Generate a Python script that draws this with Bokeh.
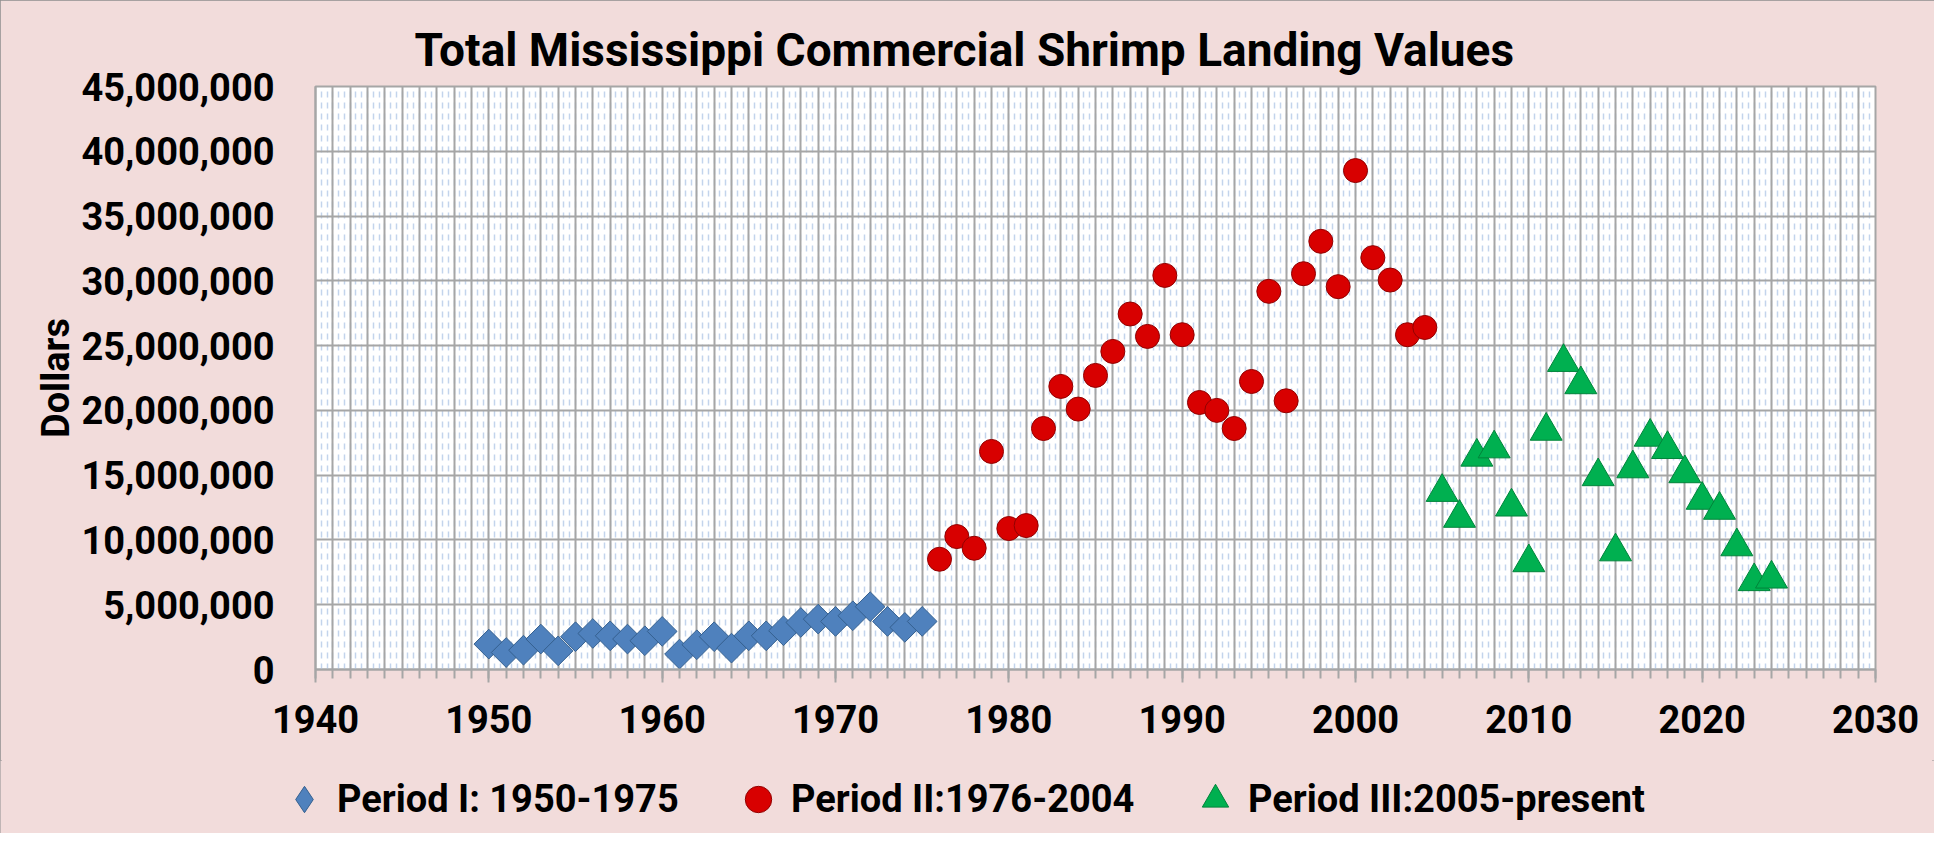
from bokeh.plotting import figure
from bokeh.layouts import column
from bokeh.models import (SingleIntervalTicker, NumeralTickFormatter,
                          Legend, LegendItem, Range1d)
from bokeh.embed import file_html
from bokeh.resources import INLINE

# ---------------- data ----------------
years_p1 = list(range(1950, 1976))
values_p1 = [1960000, 1310000, 1490000, 2350000, 1440000, 2530000, 2780000,
             2600000, 2350000, 2220000, 2940000, 1190000, 1910000, 2530000,
             1650000, 2600000, 2600000, 2990000, 3630000, 3890000, 3710000,
             4150000, 4850000, 3710000, 3250000, 3710000]

years_p2 = list(range(1976, 2005))
values_p2 = [8510000, 10260000, 9360000, 16830000, 10880000, 11110000,
             18600000, 21850000, 20100000, 22700000, 24550000, 27440000,
             25710000, 30420000, 25840000, 20610000, 20000000, 18600000,
             22230000, 29190000, 20740000, 30550000, 33050000, 29550000,
             38510000, 31790000, 30060000, 25840000, 26400000]

years_p3 = list(range(2005, 2025))
values_p3 = [13690000, 11690000, 16410000, 17050000, 12560000, 8260000,
             18410000, 23720000, 22000000, 14900000, 9100000, 15510000,
             17950000, 17000000, 15130000, 13080000, 12310000, 9490000,
             6800000, 7000000]

title_text = "Total Mississippi Commercial Shrimp Landing Values"
y_label = "Dollars"
legend_labels = ["Period I: 1950-1975", "Period II:1976-2004", "Period III:2005-present"]

FONT = "Roboto"
PINK = "#F2DCDB"
GRID = "#A6A6A6"

BLUE_FILL, BLUE_LINE = "#4F81BD", "#35608F"
RED_FILL, RED_LINE = "#D80000", "#920000"
GREEN_FILL, GREEN_LINE = "#00B050", "#00843A"

p = figure(width=1934, height=760, output_backend="svg", toolbar_location=None,
           x_range=Range1d(1940, 2030), y_range=Range1d(0, 45000000),
           min_border_left=315, min_border_right=59, min_border_top=86,
           min_border_bottom=91, background_fill_color="white",
           border_fill_color=PINK, outline_line_color=GRID, outline_line_width=2)

# title
p.title.text = title_text
p.title.align = "left"
p.title.offset = 99
p.title.standoff = 20
p.title.text_font = FONT
p.title.text_font_style = "bold"
p.title.text_font_size = "46px"
p.title.text_color = "black"

# grids
p.xgrid.ticker = SingleIntervalTicker(interval=1, num_minor_ticks=3)
p.xgrid.grid_line_color = GRID
p.xgrid.grid_line_width = 2
p.xgrid.minor_grid_line_color = "#C3D4EC"
p.xgrid.minor_grid_line_width = 1.5
p.xgrid.minor_grid_line_dash = "6 5"
p.ygrid.ticker = SingleIntervalTicker(interval=5000000, num_minor_ticks=0)
p.ygrid.grid_line_color = GRID
p.ygrid.grid_line_width = 2

# x axis
xa = p.xaxis[0]
xa.ticker = SingleIntervalTicker(interval=10, num_minor_ticks=10)
xa.axis_line_color = GRID
xa.axis_line_width = 2
xa.major_tick_line_color = GRID
xa.major_tick_line_width = 2
xa.minor_tick_line_color = GRID
xa.minor_tick_line_width = 2
xa.major_tick_out = 13
xa.major_tick_in = 0
xa.minor_tick_out = 9
xa.minor_tick_in = 0
xa.major_label_standoff = 22
xa.major_label_text_font = FONT
xa.major_label_text_font_style = "bold"
xa.major_label_text_font_size = "38px"
xa.major_label_text_color = "black"

# y axis
ya = p.yaxis[0]
ya.ticker = SingleIntervalTicker(interval=5000000, num_minor_ticks=0)
ya.formatter = NumeralTickFormatter(format="0,0")
ya.axis_line_color = GRID
ya.axis_line_width = 2
ya.major_tick_out = 0
ya.major_tick_in = 0
ya.minor_tick_out = 0
ya.minor_tick_in = 0
ya.major_label_standoff = 41
ya.major_label_text_font = FONT
ya.major_label_text_font_style = "bold"
ya.major_label_text_font_size = "38px"
ya.major_label_text_color = "black"
ya.axis_label = y_label
ya.axis_label_text_font = FONT
ya.axis_label_text_font_style = "bold"
ya.axis_label_text_font_size = "38px"
ya.axis_label_text_color = "black"
ya.axis_label_standoff = 0

# data marks
p.scatter(years_p1, values_p1, marker="square", angle=0.785398, size=21,
          fill_color=BLUE_FILL, line_color=BLUE_LINE, line_width=1)
p.scatter(years_p2, values_p2, marker="circle", size=24,
          fill_color=RED_FILL, line_color=RED_LINE, line_width=1)
p.scatter(years_p3, values_p3, marker="triangle", size=32,
          fill_color=GREEN_FILL, line_color=GREEN_LINE, line_width=1)

# ---- legend strip (own figure so the legend is not clipped) ----
pl = figure(width=1934, height=73, output_backend="svg", toolbar_location=None,
            x_range=Range1d(0, 1), y_range=Range1d(0, 1),
            x_axis_type=None, y_axis_type=None,
            min_border_left=0, min_border_right=0, min_border_top=0,
            min_border_bottom=0, background_fill_color=PINK,
            border_fill_color=PINK, outline_line_color=None)
pl.grid.visible = False
# same series, outside this strip's visible range: used only for legend glyphs
l1 = pl.scatter(years_p1, values_p1, marker="diamond", size=21,
                fill_color=BLUE_FILL, line_color=BLUE_LINE, line_width=1)
l2 = pl.scatter(years_p2, values_p2, marker="circle", size=24,
                fill_color=RED_FILL, line_color=RED_LINE, line_width=1)
l3 = pl.scatter(years_p3, values_p3, marker="triangle", size=32,
                fill_color=GREEN_FILL, line_color=GREEN_LINE, line_width=1)

legend_x = [271, 725, 1182]
for lab, rend, lx in zip(legend_labels, [l1, l2, l3], legend_x):
    lg = Legend(items=[LegendItem(label=lab, renderers=[rend])],
                location=(lx, 1), orientation="horizontal",
                glyph_width=66, glyph_height=66, label_standoff=0,
                padding=0, margin=0, border_line_color=None,
                background_fill_alpha=0, label_text_font=FONT,
                label_text_font_style="bold", label_text_font_size="38px",
                label_text_color="black")
    pl.add_layout(lg)

layout = column(p, column(pl, spacing=0), spacing=0)
layout.styles = {"outline": "2px solid #8E8E8E", "outline-offset": "-2px",
                 "background-color": PINK}

open("out.html", "w").write(file_html(layout, INLINE))
